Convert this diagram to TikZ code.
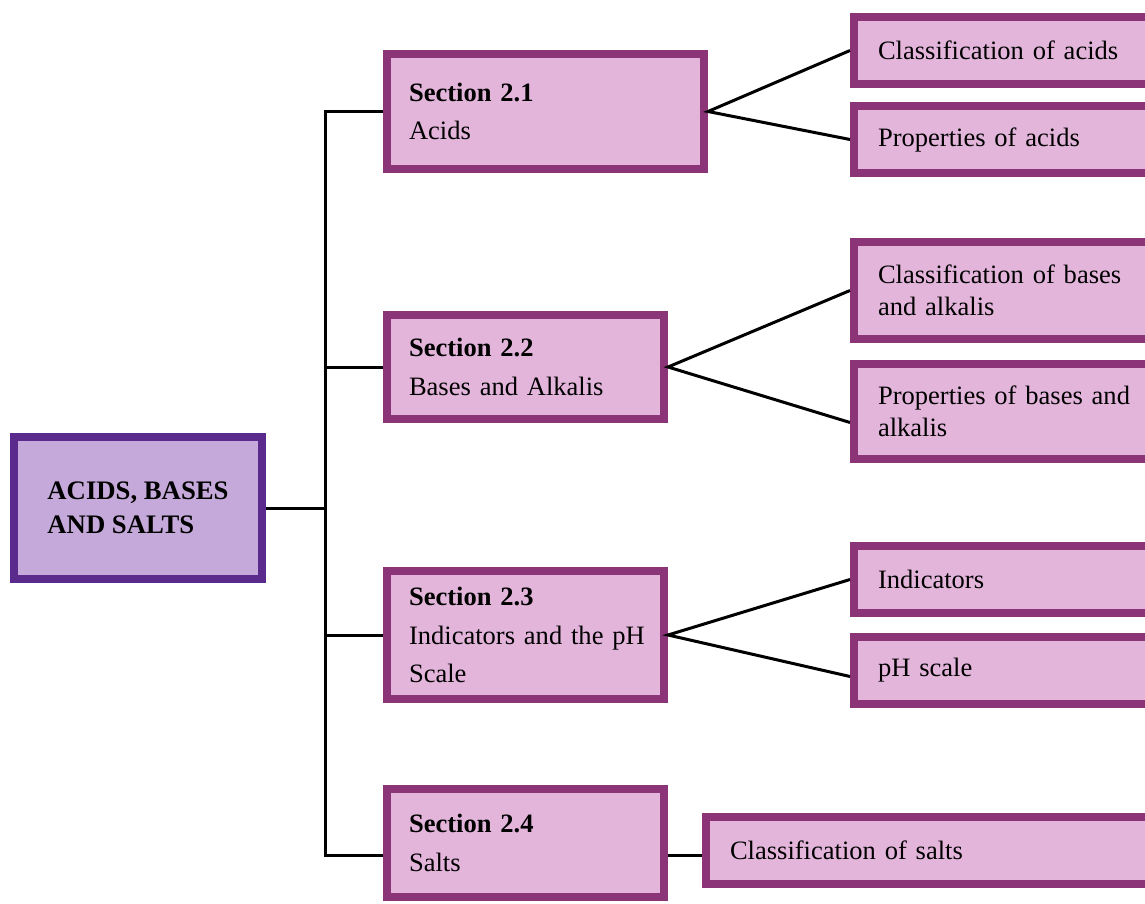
\documentclass[tikz,border=0pt]{standalone}
\usepackage{fontspec}
\setmainfont{Liberation Serif}
\definecolor{rootline}{HTML}{5A2A8C}
\definecolor{rootfill}{HTML}{C5A9DA}
\definecolor{secline}{HTML}{8B3478}
\definecolor{secfill}{HTML}{E3B5DB}
\tikzset{
  rootbox/.style={draw=rootline, fill=rootfill, line width=0.16cm, outer sep=0.08cm,
    inner sep=0pt, align=left, font=\fontsize{15.2}{19.4}\selectfont\bfseries},
  secbox/.style={draw=secline, fill=secfill, line width=0.16cm, outer sep=0.08cm,
    inner xsep=0.44cm, inner ysep=0.1cm, align=left, text width=4.66cm,
    font=\fontsize{15.1}{21.9}\selectfont},
  subbox/.style={draw=secline, fill=secfill, line width=0.16cm, outer sep=0.08cm,
    inner xsep=0.48cm, inner ysep=0.1cm, align=left, text width=5.08cm,
    font=\fontsize{15.1}{18.2}\selectfont},
  link/.style={line width=0.06cm, black}
}
\begin{document}
\begin{tikzpicture}[x=1cm,y=1cm]
\useasboundingbox (0,0) rectangle (22.9,18.06);
\clip (0,0) rectangle (22.9,18.06);

% main topic
\node[rootbox, minimum width=4.96cm, minimum height=2.84cm] (root) at (2.76,7.90) {ACIDS, BASES\\AND SALTS};

% sections
\node[secbox, text width=5.46cm, minimum height=2.30cm] (s1) at (10.91,15.83) {\textbf{Section 2.1}\\Acids};
\node[secbox, minimum height=2.08cm] (s2) at (10.51,10.72) {\textbf{Section 2.2}\\Bases and Alkalis};
\node[secbox, minimum height=2.56cm] (s3) at (10.51,5.36) {\textbf{Section 2.3}\\\mbox{Indicators and the pH}\\Scale};
\node[secbox, minimum height=2.16cm] (s4) at (10.51,1.20) {\textbf{Section 2.4}\\Salts};

% subtopics
\node[subbox, minimum height=1.34cm] (a1) at (20.10,17.05) {Classification of acids};
\node[subbox, minimum height=1.34cm] (a2) at (20.10,15.27) {Properties of acids};
\node[subbox, minimum height=1.94cm] (b1) at (20.10,12.25) {\mbox{Classification of bases}\\and alkalis};
\node[subbox, minimum height=1.90cm] (b2) at (20.10,9.83) {\mbox{Properties of bases and}\\alkalis};
\node[subbox, minimum height=1.34cm] (c1) at (20.10,6.47) {Indicators};
\node[subbox, minimum height=1.34cm] (c2) at (20.10,4.65) {pH scale};
\node[subbox, text width=8.04cm, minimum height=1.34cm] (d1) at (18.62,1.05) {Classification of salts};

% tree lines
\coordinate (trunk) at (6.5,7.90);
\draw[link] (root.east) -- (trunk);
\draw[link] (s1.west) -| (trunk);
\draw[link] ([yshift=-0.24cm]s4.west) -| (trunk);
\draw[link] (s2.west) -- (s2.west -| trunk);
\draw[link] (s3.west) -- (s3.west -| trunk);

\draw[link] (a1.west) -- (s1.east) -- (a2.west);
\draw[link] (b1.west) -- (s2.east) -- ([yshift=-0.22cm]b2.west);
\draw[link] (c1.west) -- (s3.east) -- ([yshift=-0.12cm]c2.west);
\draw[link] ([yshift=-0.24cm]s4.east) -- ([yshift=-0.24cm]s4.east -| d1.west);
\end{tikzpicture}
\end{document}
